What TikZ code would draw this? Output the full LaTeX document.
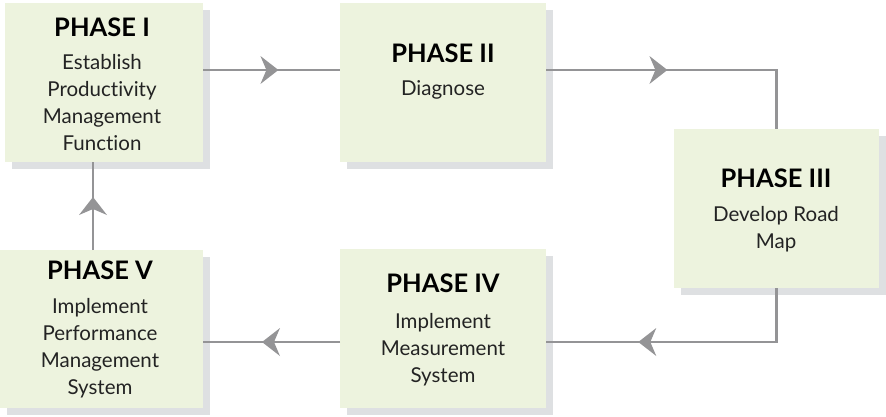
\documentclass[tikz,border=0pt]{standalone}
\usepackage{fontspec}
\setmainfont{Lato}[Ligatures=NoCommon]
\usetikzlibrary{arrows.meta,decorations.markings,shadows}
\definecolor{boxfill}{RGB}{237,243,222}
\definecolor{shadowc}{RGB}{222,224,226}
\definecolor{linec}{RGB}{148,148,150}
\definecolor{textc}{RGB}{35,35,35}
\tikzset{
  phasebox/.style={draw=none, fill=boxfill, inner sep=0pt,
    drop shadow={shadow xshift=7pt, shadow yshift=-7pt, fill=shadowc, opacity=1}},
  titletext/.style={font=\fontsize{25.5}{27}\selectfont\bfseries, text=black, inner sep=0pt},
  desctext/.style={font=\fontsize{20.5}{27}\selectfont, text=textc, align=center, inner sep=0pt},
  flow/.style={draw=linec, line width=2.6pt},
  midarrow/.style={postaction={decorate}, decoration={markings,
    mark=at position #1 with {\arrow{Stealth[length=18pt,width=28pt,inset=6pt,fill=linec,line width=0pt]}}}}
}
\begin{document}
\begin{tikzpicture}[x=1pt,y=-1pt]
\useasboundingbox (0,0) rectangle (886,416);
% boxes
\node[phasebox, minimum width=198pt, minimum height=159pt, anchor=north west] (p1) at (5,3) {};
\node[phasebox, minimum width=206pt, minimum height=159pt, anchor=north west] (p2) at (340,3) {};
\node[phasebox, minimum width=205pt, minimum height=159pt, anchor=north west] (p3) at (674,129) {};
\node[phasebox, minimum width=206pt, minimum height=159pt, anchor=north west] (p4) at (340,249) {};
\node[phasebox, minimum width=203pt, minimum height=158pt, anchor=north west] (p5) at (0,250) {};
% texts
\node[titletext] (t1) at (102,27) {PHASE I};
\node[desctext] (d1) at (102,103) {Establish\\Productivity\\Management\\Function};
\node[titletext] (t2) at (443,53) {PHASE II};
\node[desctext] (d2) at (443,90) {Diagnose};
\node[titletext] (t3) at (776,178) {PHASE III};
\node[desctext] (d3) at (776,229.5) {Develop Road\\Map};
\node[titletext] (t4) at (443,283) {PHASE IV};
\node[desctext] (d4) at (443,349.5) {Implement\\Measurement\\System};
\node[titletext] (t5) at (100,270) {PHASE V};
\node[desctext] (d5) at (100,348.5) {Implement\\Performance\\Management\\System};
% connectors
\draw[flow, midarrow=75pt] (p1.east |- 0,70) -- (p2.west |- 0,70);
\draw[flow, midarrow=121pt] (p2.east |- 0,70) -| (p3.north);
\draw[flow, midarrow=192pt] (p3.south) |- (p4.east |- 0,342);
\draw[flow, midarrow=78pt] (p4.west |- 0,342) -- (p5.east |- 0,342);
\draw[flow, midarrow=53pt] (p5.north -| 93,0) -- (p1.south -| 93,0);
\end{tikzpicture}
\end{document}
